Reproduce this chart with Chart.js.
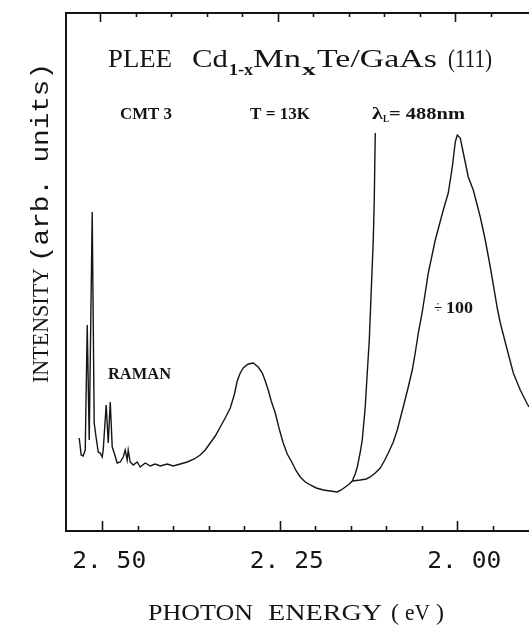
<!DOCTYPE html>
<html>
<head>
<meta charset="utf-8">
<script src="https://cdn.jsdelivr.net/npm/chart.js@4.4.1/dist/chart.umd.min.js"></script>
<style>
  html, body { margin: 0; padding: 0; background: #fff; }
  #c { display: block; }
</style>
</head>
<body>
<canvas id="c" width="529" height="625"></canvas>
<script>
// ---- data (photon energy in eV, intensity in arb. units) ----
const mainEnergy = [2.5324,2.5296,2.5268,2.5239,2.5211,2.5183,2.5141,2.5113,2.5085,2.5056,2.5028,2.5000,2.4986,2.4944,2.4915,2.4887,2.4859,2.4831,2.4789,2.4746,2.4704,2.4676,2.4648,2.4634,2.4606,2.4563,2.4507,2.4465,2.4394,2.4324,2.4254,2.4183,2.4085,2.4000,2.3901,2.3803,2.3704,2.3620,2.3549,2.3479,2.3408,2.3338,2.3268,2.3197,2.3141,2.3099,2.3056,2.3014,2.2944,2.2873,2.2803,2.2746,2.2704,2.2662,2.2620,2.2563,2.2507,2.2451,2.2394,2.2324,2.2268,2.2211,2.2141,2.2070,2.1986,2.1887,2.1789,2.1690,2.1634,2.1577,2.1521,2.1479,2.1437,2.1408,2.1366,2.1338,2.1296,2.1268,2.1239,2.1211,2.1183,2.1169,2.1155];
const mainIntensity = [93,76,75,81,206,91,319,108,93,79,78,74,81,126,88,129,84,78,68,69,74,81,71,81,69,66,69,64,68,65,67,65,67,65,67,69,72,76,81,88,95,104,113,123,136,150,158,163,167,168,164,158,150,141,130,118,102,88,77,68,60,54,49,46,43,41,40,39,41,44,47,50,57,64,79,91,124,158,191,241,291,331,398];

const dividedEnergy = [2.1479,2.1366,2.1282,2.1225,2.1155,2.1085,2.1028,2.0972,2.0901,2.0845,2.0761,2.0690,2.0634,2.0592,2.0549,2.0493,2.0408,2.0310,2.0197,2.0127,2.0070,2.0028,2.0000,1.9958,1.9915,1.9845,1.9775,1.9676,1.9606,1.9535,1.9437,1.9394,1.9296,1.9211,1.9113,1.9014,1.8990];
const dividedIntensity = [50,51,52,54,58,63,70,78,89,101,124,144,161,178,198,219,258,291,321,338,364,389,396,393,378,354,341,314,291,264,223,208,181,158,141,127,124];

const majorTicks = [2.50, 2.25, 2.00];
const majorTickLabels = ['2. 50', '2. 25', '2. 00'];
const minorTicks = [2.45, 2.40, 2.35, 2.30, 2.20, 2.15, 2.10, 2.05, 1.95];

const xMin = 1.899, xMax = 2.551;
const yMin = 0, yMax = 518;

const INK = '#151515';

function pts(xs, ys) { return xs.map((x, i) => ({ x: x, y: ys[i] })); }

function fitText(ctx, text, x, y, w, font, rotate) {
  ctx.save();
  ctx.font = font;
  ctx.textAlign = 'left';
  ctx.textBaseline = 'alphabetic';
  const m = ctx.measureText(text).width;
  ctx.translate(x, y);
  if (rotate) ctx.rotate(-Math.PI / 2);
  if (w) ctx.scale(w / m, 1);
  ctx.fillText(text, 0, 0);
  ctx.restore();
}

const decorations = {
  id: 'decorations',
  afterDatasetsDraw(chart) {
    const ctx = chart.ctx;
    const a = chart.chartArea;
    const xs = chart.scales.x;
    ctx.save();
    ctx.fillStyle = INK;
    ctx.strokeStyle = INK;
    // frame (left, top, bottom)
    ctx.lineWidth = 2;
    ctx.beginPath();
    ctx.moveTo(a.right, a.top); ctx.lineTo(a.left, a.top);
    ctx.lineTo(a.left, a.bottom); ctx.lineTo(a.right, a.bottom);
    ctx.stroke();
    // ticks
    ctx.lineWidth = 1.6;
    majorTicks.forEach(v => {
      const px = Math.round(xs.getPixelForValue(v)) + 0.5;
      ctx.beginPath();
      ctx.moveTo(px, a.bottom); ctx.lineTo(px, a.bottom - 10);
      ctx.moveTo(px - 2, a.top); ctx.lineTo(px - 2, a.top + 9);
      ctx.stroke();
    });
    minorTicks.forEach(v => {
      const px = Math.round(xs.getPixelForValue(v)) + 0.5;
      ctx.beginPath();
      ctx.moveTo(px, a.bottom); ctx.lineTo(px, a.bottom - 5);
      ctx.moveTo(px - 2, a.top); ctx.lineTo(px - 2, a.top + 4);
      ctx.stroke();
    });
    // tick labels
    majorTicks.forEach((v, i) => {
      const px = xs.getPixelForValue(v);
      fitText(ctx, majorTickLabels[i], px - 30, 568, 74, '23px "DejaVu Sans Mono"');
    });
    // x title
    const sf = '24px "Liberation Serif"';
    fitText(ctx, 'PHOTON', 148, 620, 105, sf);
    fitText(ctx, 'ENERGY', 268, 620, 114, sf);
    fitText(ctx, '(', 391, 620, 0, sf);
    fitText(ctx, 'eV', 405, 620, 25, sf);
    fitText(ctx, ')', 436, 620, 0, sf);
    // y title (rotated)
    fitText(ctx, 'INTENSITY', 48, 383, 115, '23px "Liberation Serif"', true);
    fitText(ctx, '(arb. units)', 48, 262, 199, '23px "Liberation Mono"', true);
    // main label
    const tf = '26px "Liberation Serif"';
    fitText(ctx, 'PLEE', 108, 67, 64, tf);
    fitText(ctx, 'Cd', 192, 67, 36, tf);
    fitText(ctx, '1-x', 229, 75, 24, 'bold 17px "Liberation Serif"');
    fitText(ctx, 'Mn', 253, 67, 48, tf);
    fitText(ctx, 'x', 302, 75, 14, 'bold 17px "Liberation Serif"');
    fitText(ctx, 'Te/GaAs', 317, 67, 120, tf);
    fitText(ctx, '(111)', 448, 67, 44, tf);
    // annotations
    const bf = 'bold 16px "Liberation Serif"';
    fitText(ctx, 'CMT 3', 120, 119, 52, bf);
    fitText(ctx, 'T = 13K', 250, 119, 60, bf);
    fitText(ctx, 'λ', 372, 119, 11, bf);
    fitText(ctx, 'L', 383, 122, 6, 'bold 10px "Liberation Serif"');
    fitText(ctx, '= 488nm', 389, 119, 76, bf);
    fitText(ctx, 'RAMAN', 108, 379, 63, bf);
    fitText(ctx, '÷', 434, 313, 8, '16px "Liberation Serif"');
    fitText(ctx, '100', 446, 313, 27, bf);
    ctx.restore();
  }
};

new Chart(document.getElementById('c'), {
  type: 'line',
  data: {
    datasets: [
      { label: 'PL', data: pts(mainEnergy, mainIntensity), borderColor: INK, borderWidth: 1.4, pointRadius: 0, tension: 0, fill: false },
      { label: '÷100', data: pts(dividedEnergy, dividedIntensity), borderColor: INK, borderWidth: 1.4, pointRadius: 0, tension: 0, fill: false }
    ]
  },
  options: {
    responsive: false,
    animation: false,
    events: [],
    layout: { padding: { left: 66, top: 13, right: 0, bottom: 94 } },
    plugins: { legend: { display: false }, tooltip: { enabled: false }, title: { display: false } },
    scales: {
      x: { type: 'linear', reverse: true, min: xMin, max: xMax, display: false },
      y: { type: 'linear', min: yMin, max: yMax, display: false }
    }
  },
  plugins: [decorations]
});
</script>
</body>
</html>
